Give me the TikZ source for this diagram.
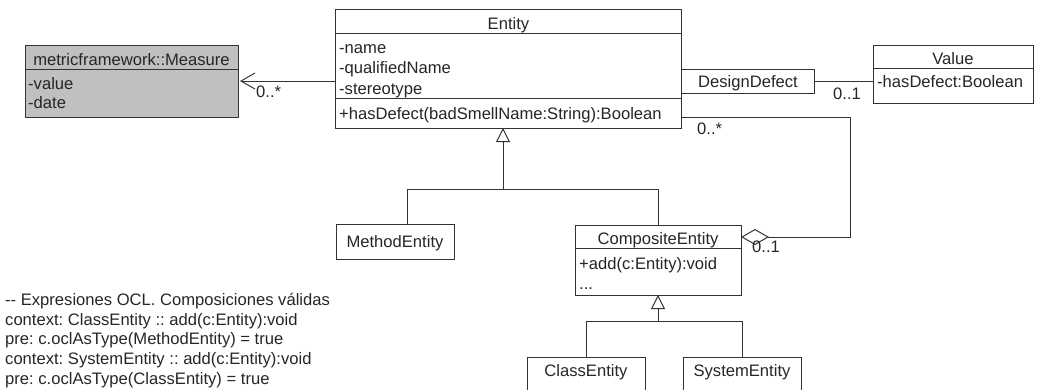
\documentclass[tikz,border=0pt]{standalone}
\usepackage{fontspec}
\setmainfont{Liberation Sans}[Ligatures=NoCommon]
\frenchspacing
\usetikzlibrary{arrows.meta}
\definecolor{linec}{HTML}{333333}
\definecolor{textc}{HTML}{262626}
\definecolor{measurefill}{HTML}{C0C0C0}
\begin{document}
\begin{tikzpicture}[x=1pt,y=-1pt,
  umlbox/.style={draw=linec, line width=1pt, inner sep=0pt, outer sep=0pt, anchor=north west, fill=white},
  sep/.style={draw=linec, line width=1pt},
  conn/.style={draw=linec, line width=1pt},
  txt/.style={inner sep=0pt, anchor=base, text=textc, font=\fontsize{16.6}{19}\selectfont},
  ltxt/.style={txt, anchor=base west},
  gentip/.style={conn, -{Triangle[open, length=14pt, width=14pt, line width=1pt]}},
  navtip/.style={conn, -{Straight Barb[length=14pt, width=16pt, line width=1pt]}, shorten >=2pt},
  aggtip/.style={conn, -{Diamond[open, fill=white, length=28pt, width=16pt, line width=1pt]}}
]
\useasboundingbox (0,0) rectangle (1043,389);
\clip (0,0) rectangle (1043,389);

% ---- class boxes ----
\node[umlbox, fill=measurefill, minimum width=213pt, minimum height=72pt] (measure) at (25,45) {};
\node[umlbox, minimum width=346pt, minimum height=118.5pt] (entity) at (335.5,9.5) {};
\node[umlbox, minimum width=132.5pt, minimum height=24pt] (defect) at (681.5,69) {};
\node[umlbox, minimum width=160pt, minimum height=58pt] (value) at (873,45) {};
\node[umlbox, minimum width=118pt, minimum height=35pt] (method) at (336,224) {};
\node[umlbox, minimum width=166pt, minimum height=70pt] (composite) at (575,225) {};
\node[umlbox, minimum width=118pt, minimum height=35pt] (classent) at (527,357) {};
\node[umlbox, minimum width=118pt, minimum height=35pt] (systement) at (683,357) {};

% ---- compartment separators ----
\draw[sep] (measure.west |- 0,69) -- (measure.east |- 0,69);
\draw[sep] (entity.west |- 0,33) -- (entity.east |- 0,33);
\draw[sep] (entity.west |- 0,98) -- (entity.east |- 0,98);
\draw[sep] (value.west |- 0,68) -- (value.east |- 0,68);
\draw[sep] (composite.west |- 0,248) -- (composite.east |- 0,248);

% ---- class texts ----
\node[txt] (measureName) at (131.5,65) {metricframework::Measure};
\node[ltxt] (measureA1) at (28,89) {-value};
\node[ltxt] (measureA2) at (28,108.5) {-date};

\node[txt] (entityName) at (508.5,29) {Entity};
\node[ltxt] (entityA1) at (339,53) {-name};
\node[ltxt] (entityA2) at (339,73.5) {-qualifiedName};
\node[ltxt] (entityA3) at (339,94) {-stereotype};
\node[ltxt] (entityO1) at (339,119) {+hasDefect(badSmellName:String):Boolean};

\node[txt] (defectName) at (748,87) {DesignDefect};

\node[txt] (valueName) at (953,64) {Value};
\node[ltxt] (valueA1) at (877,87) {-hasDefect:Boolean};

\node[txt] (methodName) at (395,247) {MethodEntity};

\node[txt] (compositeName) at (658,244) {CompositeEntity};
\node[ltxt] (compositeO1) at (579,269) {+add(c:Entity):void};
\node[ltxt] (compositeO2) at (579,289) {.{}.{}.};

\node[txt] (className) at (586,376) {ClassEntity};
\node[txt] (systemName) at (742,376) {SystemEntity};

% ---- associations ----
\draw[navtip] (entity.west |- measure.east) -- (measure.east);
\node[ltxt] (multMeasure) at (256,97) {0..*};

\draw[conn] (defect.east) -- (value.west |- defect.east);
\node[ltxt] (multValue) at (833,99) {0..1};

\coordinate (loopTop) at (850,117);
\coordinate (aggEnd) at (741,237);
\draw[aggtip] (entity.east |- loopTop) -- (loopTop) |- (aggEnd);
\node[ltxt] (multChildren) at (697,134) {0..*};
\node[ltxt] (multParent) at (752,252) {0..1};

% ---- generalizations ----
\coordinate (busA) at (503,189);
\coordinate (busAL) at (407,189);
\coordinate (busAR) at (658,189);
\draw[gentip] (busA) -- (busA |- entity.south);
\draw[conn] (busAL |- method.north) -- (busAL) -- (busAR) -- (composite.north);

\coordinate (busB) at (658,321);
\coordinate (busBL) at (586,321);
\coordinate (busBR) at (742,321);
\draw[gentip] (busB) -- (composite.south);
\draw[conn] (classent.north) -- (busBL) -- (busBR) -- (systement.north);

% ---- OCL constraints ----
\node[ltxt] (ocl1) at (5,305) {{-}{-} Expresiones OCL. Composiciones válidas};
\node[ltxt] (ocl2) at (5,325) {context: ClassEntity :: add(c:Entity):void};
\node[ltxt] (ocl3) at (5,344.5) {pre: c.oclAsType(MethodEntity) = true};
\node[ltxt] (ocl4) at (5,364) {context: SystemEntity :: add(c:Entity):void};
\node[ltxt] (ocl5) at (5,384) {pre: c.oclAsType(ClassEntity) = true};
\end{tikzpicture}
\end{document}
